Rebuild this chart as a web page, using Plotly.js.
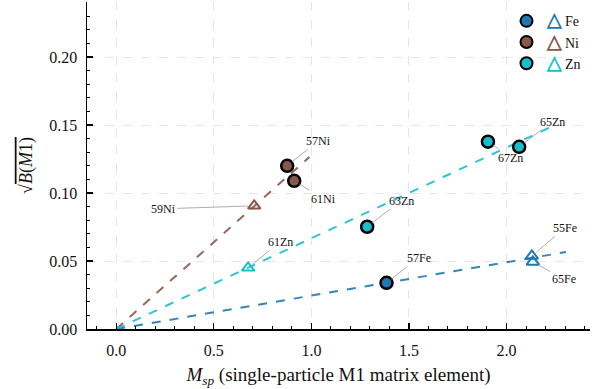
<!DOCTYPE html>
<html>
<head>
<meta charset="utf-8">
<script src="https://cdn.plot.ly/plotly-3.0.1.min.js"></script>
<style>html,body{margin:0;padding:0;background:#fff;}#chart{width:592px;height:389px;}</style>
</head>
<body>
<div id="chart"></div>
<script>
// ---- data ----
const elements = ["Fe", "Ni", "Zn"];
const colors = {Fe: "#1f77b4", Ni: "#8c564b", Zn: "#17becf"};

// circles (measured)
const feCircleLabels = ["57Fe"];
const feCircleX = [1.385];
const feCircleY = [0.034];
const niCircleLabels = ["57Ni", "61Ni"];
const niCircleX = [0.876, 0.912];
const niCircleY = [0.120, 0.109];
const znCircleLabels = ["63Zn", "67Zn", "65Zn"];
const znCircleX = [1.286, 1.905, 2.065];
const znCircleY = [0.0752, 0.1378, 0.134];

// triangles
const feTriLabels = ["55Fe", "65Fe"];
const feTriX = [2.13, 2.135];
const feTriY = [0.0537, 0.0493];
const niTriLabels = ["59Ni"];
const niTriX = [0.707];
const niTriY = [0.0906];
const znTriLabels = ["61Zn"];
const znTriX = [0.676];
const znTriY = [0.045];

// fit lines through origin
const feFitX = [0, 2.305];
const feFitY = [0, 0.0566];
const niFitX = [0, 0.99];
const niFitY = [0, 0.1265];
const znFitX = [0, 2.234];
const znFitY = [0, 0.149];

// label offsets (px)
const labelOffsets = {
  "57Ni": [31, -25], "61Ni": [29, 18], "59Ni": [-91, 3],
  "63Zn": [34, -26], "61Zn": [32, -26], "57Fe": [32, -25],
  "55Fe": [33, -28], "65Fe": [31, 17], "67Zn": [23, 16], "65Zn": [33, -25]
};

const serif = "Liberation Serif";
const circles = {Fe: [feCircleX, feCircleY, feCircleLabels], Ni: [niCircleX, niCircleY, niCircleLabels], Zn: [znCircleX, znCircleY, znCircleLabels]};
const tris = {Fe: [feTriX, feTriY, feTriLabels], Ni: [niTriX, niTriY, niTriLabels], Zn: [znTriX, znTriY, znTriLabels]};
const fits = {Fe: [feFitX, feFitY], Ni: [niFitX, niFitY], Zn: [znFitX, znFitY]};

const traces = [];
elements.forEach(el => {
  traces.push({x: fits[el][0], y: fits[el][1], mode: "lines", type: "scatter", showlegend: false,
    line: {color: colors[el], width: 2, dash: "dash"}, opacity: 0.9, hoverinfo: "skip"});
});
elements.forEach(el => {
  traces.push({x: tris[el][0], y: tris[el][1], mode: "markers", type: "scatter", showlegend: false,
    marker: {symbol: "triangle-up-open", size: 11, color: colors[el], line: {width: 2, color: colors[el]}}});
  traces.push({x: circles[el][0], y: circles[el][1], mode: "markers", type: "scatter",
    name: '<b><span style="color:' + colors[el] + ';font-size:19px">△</span></b> ' + el,
    marker: {symbol: "circle", size: 12, color: colors[el], line: {width: 2.5, color: "#000"}}});
});

const annotations = [];
elements.forEach(el => {
  [circles[el], tris[el]].forEach(set => {
    set[2].forEach((lab, i) => {
      const off = labelOffsets[lab];
      annotations.push({x: set[0][i], y: set[1][i], xref: "x", yref: "y", text: lab,
        showarrow: true, arrowhead: 0, arrowwidth: 0.8, arrowcolor: "#999", standoff: 6,
        ax: off[0], ay: off[1], font: {family: serif, size: 12, color: "#111"}});
    });
  });
});

const layout = {
  width: 592, height: 389,
  margin: {l: 87, r: 2, t: 2, b: 60},
  paper_bgcolor: "#fff", plot_bgcolor: "#fff",
  font: {family: serif, color: "#111"},
  showlegend: true,
  legend: {x: 0.834, y: 0.99, xanchor: "left", yanchor: "top", bgcolor: "rgba(255,255,255,0)",
    font: {family: serif, size: 14, color: "#111"}, tracegroupgap: 0, itemsizing: "constant"},
  xaxis: {range: [-0.15, 2.428], showline: true, linecolor: "#000", linewidth: 1.5, mirror: false,
    zeroline: false, showgrid: true, gridcolor: "#e6e6e6", griddash: "dash", gridwidth: 1,
    tickvals: [0, 0.5, 1.0, 1.5, 2.0], ticktext: ["0.0", "0.5", "1.0", "1.5", "2.0"],
    ticks: "inside", ticklen: 6, tickwidth: 1.2, tickcolor: "#000", ticklabelstandoff: 6,
    minor: {dtick: 0.1, ticks: "inside", ticklen: 3, tickwidth: 1, tickcolor: "#000", showgrid: false},
    tickfont: {family: serif, size: 16, color: "#111"},
    title: {text: "<i>M</i><sub><i>sp</i></sub> (single-particle M1 matrix element)", font: {family: serif, size: 19, color: "#111"}, standoff: 10}},
  yaxis: {range: [0, 0.2405], showline: true, linecolor: "#000", linewidth: 1.5,
    zeroline: false, showgrid: true, gridcolor: "#e6e6e6", griddash: "dash", gridwidth: 1,
    tickvals: [0, 0.05, 0.10, 0.15, 0.20], ticktext: ["0.00", "0.05", "0.10", "0.15", "0.20"],
    ticks: "inside", ticklen: 6, tickwidth: 1.2, tickcolor: "#000", ticklabelstandoff: 5,
    minor: {dtick: 0.01, ticks: "inside", ticklen: 3, tickwidth: 1, tickcolor: "#000", showgrid: false},
    tickfont: {family: serif, size: 16, color: "#111"},
    title: {text: '√<span style="text-decoration:overline"><i>B</i>(<i>M</i>1)</span>', font: {family: serif, size: 18, color: "#111"}, standoff: 12}},
  annotations: annotations
};

Plotly.newPlot("chart", traces, layout, {displayModeBar: false, staticPlot: true});
</script>
</body>
</html>
